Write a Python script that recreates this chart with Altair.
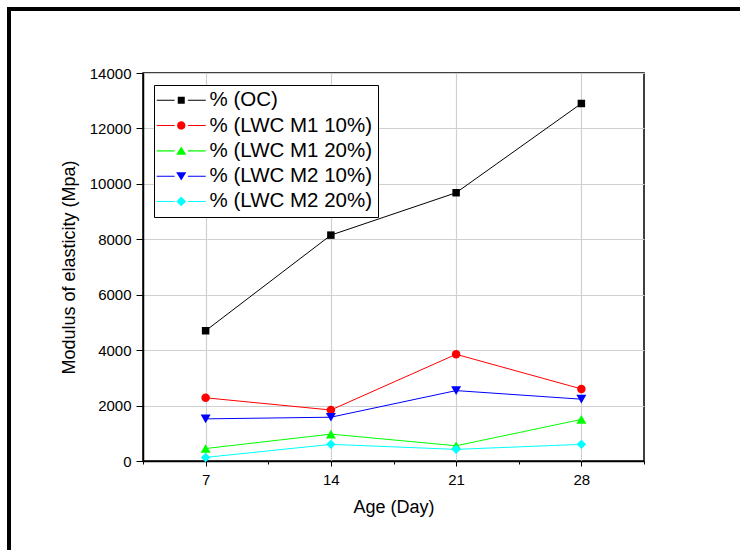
import altair as alt
import pandas as pd

days = [7, 14, 21, 28]
series_names = ["% (OC)", "% (LWC M1 10%)", "% (LWC M1 20%)", "% (LWC M2 10%)", "% (LWC M2 20%)"]
oc = [4700, 8150, 9680, 12900]
m1_10 = [2280, 1840, 3850, 2600]
m1_20 = [450, 970, 550, 1500]
m2_10 = [1520, 1580, 2540, 2230]
m2_20 = [130, 600, 420, 600]
colors = ["#000000", "#ff0000", "#00ff00", "#0000ff", "#00ffff"]
shapes = ["square", "circle", "triangle-up", "triangle-down", "diamond"]
shape_sizes = [56, 72, 100, 100, 90]

values = [oc, m1_10, m1_20, m2_10, m2_20]
rows = []
for name, vals in zip(series_names, values):
    for d, v in zip(days, vals):
        rows.append({"day": d, "value": v, "series": name})
df = pd.DataFrame(rows)

FONT = "Liberation Sans"
W, H = 501, 388

xscale = alt.Scale(domain=[3.5, 31.5], nice=False, zero=False)
yscale = alt.Scale(domain=[0, 14000], nice=False, zero=True)
cscale = alt.Scale(domain=series_names, range=colors)

xaxis = alt.Axis(
    values=[3.5, 7, 10.5, 14, 17.5, 21, 24.5, 28, 31.5],
    labelExpr="datum.value % 7 == 0 ? datum.label : ''",
    tickSize={"condition": {"test": "datum.value % 7 == 0", "value": 5}, "value": 3},
    gridOpacity={"condition": {"test": "datum.value % 7 == 0", "value": 1}, "value": 0},
    title="Age (Day)", titleFontSize=18, titleFont=FONT, titleFontWeight="normal",
    titleColor="black", titlePadding=11,
    labelFont=FONT, labelFontSize=15, labelColor="black", labelPadding=6,
    domainColor="black", domainWidth=1.5, tickColor="black", tickWidth=1,
    gridColor="#d0d0d0", gridWidth=1.2, labelFlush=False, labelOverlap=False,
)
yaxis = alt.Axis(
    values=list(range(0, 14001, 1000)),
    labelExpr="datum.value % 2000 == 0 ? datum.value : ''",
    tickSize={"condition": {"test": "datum.value % 2000 == 0", "value": 7}, "value": 3},
    gridOpacity={"condition": {"test": "datum.value % 2000 == 0", "value": 1}, "value": 0},
    title="Modulus of elasticity (Mpa)", titleFontSize=18, titleFont=FONT,
    titleFontWeight="normal", titleColor="black", titlePadding=11,
    labelFont=FONT, labelFontSize=15, labelColor="black", labelPadding=5,
    domainColor="black", domainWidth=1.5, tickColor="black", tickWidth=1,
    gridColor="#d0d0d0", gridWidth=1.2, labelFlush=False, labelOverlap=False,
)

base = alt.Chart(df)

# legend symbol: thin line pieces (as filled slivers) plus the marker
seg = "M-7,-0.15H-1.9V0.15H-7ZM1.9,-0.15H7V0.15H1.9Z"
legend_paths = [
    seg + "M-1,-1H1V1H-1Z",
    seg + "M-1.2,0A1.2,1.2 0 1,0 1.2,0A1.2,1.2 0 1,0 -1.2,0Z",
    seg + "M0,-1.25L1.45,1.1L-1.45,1.1Z",
    seg + "M0,1.25L1.45,-1.1L-1.45,-1.1Z",
    seg + "M0,-1.4L1.4,0L0,1.4L-1.4,0Z",
]

# zero-size layer that only carries the legend
legend_layer = base.mark_point(filled=True, opacity=1, size=0).encode(
    x=alt.X("day:Q", scale=xscale, axis=xaxis),
    y=alt.Y("value:Q", scale=yscale, axis=yaxis),
    color=alt.Color(
        "series:N", scale=cscale,
        legend=alt.Legend(
            title=None, orient="none", legendX=11, legendY=12,
            labelFont=FONT, labelFontSize=20.5, labelColor="black",
            symbolSize=49, symbolStrokeWidth=0, symbolOpacity=1,
            symbolOffset=12, labelOffset=18,
            rowPadding=4.3, padding=5, strokeColor="black", fillColor="white",
            labelLimit=400,
        ),
    ),
    shape=alt.Shape("series:N", scale=alt.Scale(domain=series_names, range=legend_paths),
                    legend=alt.Legend(title=None)),
)

lines = base.mark_line(strokeWidth=1).encode(
    x=alt.X("day:Q", scale=xscale),
    y=alt.Y("value:Q", scale=yscale),
    color=alt.Color("series:N", scale=cscale, legend=None),
    detail="series:N",
)

point_layers = []
for name, shp, sz in zip(series_names, shapes, shape_sizes):
    point_layers.append(
        base.transform_filter(alt.datum.series == name)
        .mark_point(filled=True, shape=shp, size=sz, opacity=1, strokeWidth=0)
        .encode(
            x=alt.X("day:Q", scale=xscale),
            y=alt.Y("value:Q", scale=yscale),
            color=alt.Color("series:N", scale=cscale, legend=None),
        )
    )

frame_v = alt.Chart(alt.Data(values=[{}])).mark_rule(color="black", strokeWidth=4).encode(
    x=alt.value(-134), y=alt.value(-66), y2=alt.value(480)
)
frame_h = alt.Chart(alt.Data(values=[{}])).mark_rule(color="black", strokeWidth=4).encode(
    x=alt.value(-136), x2=alt.value(600), y=alt.value(-64)
)

chart = alt.layer(legend_layer, lines, *point_layers, frame_v, frame_h).properties(
    width=W, height=H,
    autosize=alt.AutoSizeParams(type="none"),
    padding={"left": 143, "top": 73, "right": 96, "bottom": 89},
    background="white",
).configure_view(stroke="black", strokeWidth=1.5)

chart.save("out.html", embed_options={"renderer": "svg", "actions": False})
